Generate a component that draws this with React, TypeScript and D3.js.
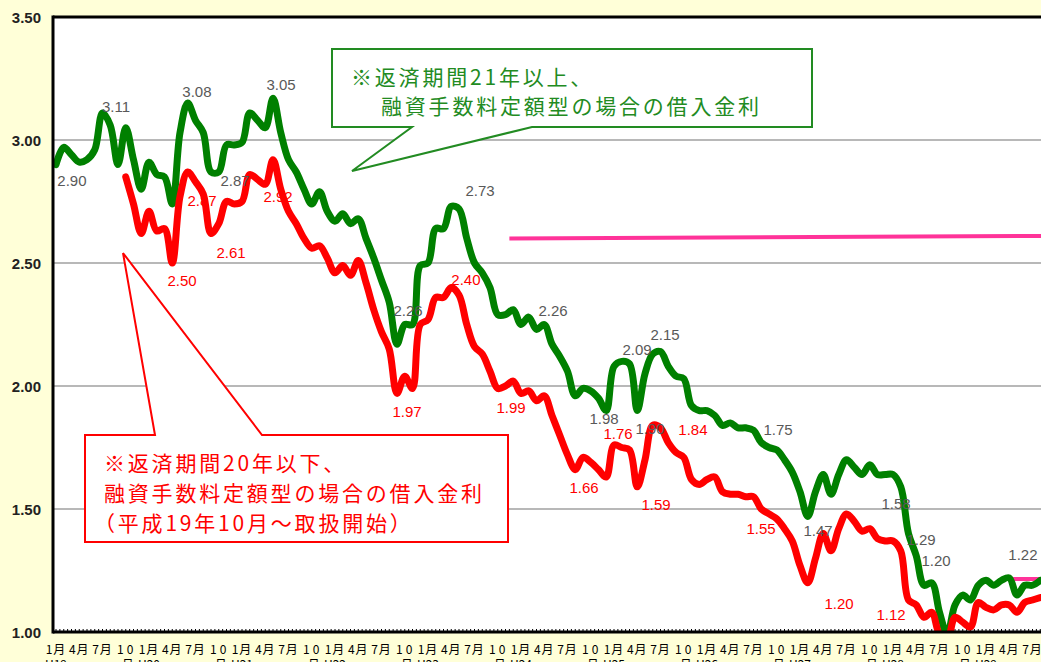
import React from "react";
import * as d3 from "d3";

// month index 0 = H19 (2007) January
const greenStart = 0;
const greenValues = [
  2.90, 2.97, 2.94, 2.91, 2.92, 2.96, 3.11, 3.06, 2.90, 3.05, 2.92, 2.80,
  2.91, 2.86, 2.85, 2.74, 3.03, 3.15, 3.08, 3.03, 2.87, 2.87, 2.98, 2.98,
  2.99, 3.11, 3.08, 3.05, 3.17, 3.03, 2.92, 2.87, 2.80, 2.74, 2.79, 2.71,
  2.67, 2.70, 2.66, 2.68, 2.60, 2.52, 2.43, 2.34, 2.17, 2.25, 2.25, 2.49,
  2.50, 2.64, 2.64, 2.73, 2.72, 2.60, 2.50, 2.46, 2.40, 2.29, 2.29, 2.31,
  2.25, 2.28, 2.23, 2.25, 2.17, 2.12, 2.06, 1.96, 1.99, 1.98, 1.95, 1.90,
  2.08, 2.10, 2.09, 1.90, 2.05, 2.13, 2.14, 2.08, 2.04, 2.03, 1.92, 1.90,
  1.90, 1.88, 1.84, 1.85, 1.83, 1.83, 1.82, 1.77, 1.75, 1.74, 1.70, 1.65,
  1.57, 1.47, 1.57, 1.64, 1.56, 1.64, 1.70, 1.67, 1.64, 1.68, 1.64, 1.64,
  1.64, 1.59, 1.40, 1.31, 1.19, 1.20, 1.08, 0.99, 1.11, 1.15, 1.13, 1.19,
  1.21, 1.19, 1.21, 1.22, 1.15, 1.19, 1.19, 1.21,
];

const redStart = 9; // H19 October
const redValues = [
  2.85, 2.74, 2.62,
  2.71, 2.63, 2.64, 2.50, 2.77, 2.87, 2.83, 2.78, 2.62, 2.66, 2.75, 2.74,
  2.75, 2.86, 2.84, 2.82, 2.92, 2.80, 2.71, 2.66, 2.60, 2.56, 2.57, 2.52,
  2.46, 2.49, 2.45, 2.51, 2.42, 2.31, 2.22, 2.15, 1.97, 2.04, 1.99, 2.25,
  2.27, 2.36, 2.36, 2.40, 2.37, 2.25, 2.16, 2.13, 2.06, 1.99, 2.00, 2.02,
  1.97, 1.98, 1.94, 1.96, 1.88, 1.80, 1.72, 1.66, 1.71, 1.69, 1.66, 1.63,
  1.76, 1.75, 1.74, 1.59, 1.70, 1.84, 1.83, 1.77, 1.73, 1.71, 1.62, 1.60,
  1.62, 1.63, 1.57, 1.56, 1.56, 1.55, 1.55, 1.50, 1.48, 1.46, 1.42, 1.37,
  1.27, 1.20, 1.30, 1.40, 1.33, 1.42, 1.48, 1.45, 1.41, 1.42, 1.38, 1.37,
  1.37, 1.33, 1.13, 1.11, 1.06, 1.08, 0.99, 0.97, 1.06, 1.04, 1.02, 1.12,
  1.10, 1.09, 1.11, 1.11, 1.08, 1.12, 1.13, 1.14,
];

const pinkLine1 = [
  { m: 58.5, v: 2.60 },
  { m: 128, v: 2.61 },
];
const pinkLine2 = [
  { m: 122.5, v: 1.215 },
  { m: 128, v: 1.215 },
];

const yTicks = [1.0, 1.5, 2.0, 2.5, 3.0, 3.5];
const monthNames = ["1月", "4月", "7月", "10"];
const eraLabels = ["H19", "H20", "H21", "H22", "H23", "H24", "H25", "H26", "H27", "H28", "H29"];

const greenLabels = [
  { t: "2.90", m: 2.06, v: 2.837 },
  { t: "3.11", m: 7.74, v: 3.138 },
  { t: "3.08", m: 18.19, v: 3.199 },
  { t: "3.05", m: 29.03, v: 3.224 },
  { t: "2.87", m: 23.1, v: 2.837 },
  { t: "2.73", m: 54.71, v: 2.793 },
  { t: "2.26", m: 45.42, v: 2.305 },
  { t: "2.26", m: 64.13, v: 2.305 },
  { t: "1.98", m: 70.71, v: 1.866 },
  { t: "2.09", m: 74.97, v: 2.15 },
  { t: "2.15", m: 78.58, v: 2.211 },
  { t: "1.90", m: 76.65, v: 1.829 },
  { t: "1.75", m: 93.16, v: 1.825 },
  { t: "1.47", m: 98.32, v: 1.411 },
  { t: "1.58", m: 108.39, v: 1.524 },
  { t: "1.29", m: 111.61, v: 1.378 },
  { t: "1.20", m: 113.55, v: 1.289 },
  { t: "1.22", m: 124.77, v: 1.317 },
];

const redLabels = [
  { t: "2.50", m: 16.26, v: 2.427 },
  { t: "2.87", m: 18.84, v: 2.756 },
  { t: "2.61", m: 22.58, v: 2.541 },
  { t: "2.92", m: 28.65, v: 2.772 },
  { t: "1.97", m: 45.29, v: 1.898 },
  { t: "2.40", m: 52.9, v: 2.431 },
  { t: "1.99", m: 58.71, v: 1.911 },
  { t: "1.66", m: 68.13, v: 1.589 },
  { t: "1.76", m: 72.52, v: 1.805 },
  { t: "1.59", m: 77.42, v: 1.52 },
  { t: "1.84", m: 82.19, v: 1.825 },
  { t: "1.55", m: 90.97, v: 1.419 },
  { t: "1.20", m: 101.03, v: 1.114 },
  { t: "1.12", m: 107.74, v: 1.073 },
];

const greenNote = ["※返済期間21年以上、", "融資手数料定額型の場合の借入金利"];
const redNote = ["※返済期間20年以下、", "融資手数料定額型の場合の借入金利", "（平成19年10月～取扱開始）"];

const W = 1041;
const H = 662;
const plotLeft = 53;
const plotTop = 17;
const plotBottom = 632;
const plotRight = 1100;

export default function App() {
  const x = d3.scaleLinear().domain([0, 120]).range([56, 986]);
  const y = d3.scaleLinear().domain([1, 3.5]).range([plotBottom, plotTop]);

  const line = d3
    .line<{ m: number; v: number }>()
    .x((d) => x(d.m))
    .y((d) => y(d.v))
    .curve(d3.curveCatmullRom.alpha(0.5));
  const straight = d3
    .line<{ m: number; v: number }>()
    .x((d) => x(d.m))
    .y((d) => y(d.v));

  const greenData = greenValues.map((v, i) => ({ m: greenStart + i, v }));
  const redData = redValues.map((v, i) => ({ m: redStart + i, v }));

  const quarterTicks = d3.range(0, 130, 3);
  const minorTicks = d3.range(0, 130, 0.5);

  const sansNum = "'Liberation Sans', Arial, sans-serif";
  const jp = "'Noto Sans CJK JP', sans-serif";

  const noteStyle = { fontFamily: jp, fontSize: 21, letterSpacing: 2.8 } as const;

  return (
    <svg
      width={W}
      height={H}
      style={{ position: "absolute", left: 0, top: 0, display: "block" }}
    >
      <defs>
        <clipPath id="plotClip">
          <rect x={plotLeft} y={plotTop} width={plotRight - plotLeft} height={plotBottom - plotTop} />
        </clipPath>
      </defs>
      <rect x={0} y={0} width={W} height={H} fill="#FFFFD8" />
      <rect x={plotLeft} y={plotTop} width={plotRight - plotLeft} height={plotBottom - plotTop} fill="#FFFFFF" />

      {/* gridlines */}
      {yTicks
        .filter((t) => t > 1 && t < 3.5)
        .map((t) => (
          <line key={"g" + t} x1={plotLeft} x2={W} y1={y(t)} y2={y(t)} stroke="#A0A0A0" strokeWidth={1.5} />
        ))}

      {/* minor ticks */}
      {minorTicks.map((m) => (
        <line key={"mt" + m} x1={x(m)} x2={x(m)} y1={plotBottom - 3} y2={plotBottom} stroke="#000" strokeWidth={1} />
      ))}

      {/* series */}
      <g clipPath="url(#plotClip)">
        <path d={straight(pinkLine1) || ""} fill="none" stroke="#FF3399" strokeWidth={4} />
        <path d={straight(pinkLine2) || ""} fill="none" stroke="#FF3399" strokeWidth={4} />
        <path d={line(greenData) || ""} fill="none" stroke="#008000" strokeWidth={7} strokeLinejoin="round" strokeLinecap="round" />
        <path d={line(redData) || ""} fill="none" stroke="#FF0000" strokeWidth={7} strokeLinejoin="round" strokeLinecap="round" />
      </g>

      {/* frame */}
      <line x1={plotLeft} x2={W} y1={plotTop} y2={plotTop} stroke="#000" strokeWidth={3} />
      <line x1={plotLeft} x2={plotLeft} y1={plotTop - 1.5} y2={plotBottom + 1.5} stroke="#000" strokeWidth={3} />
      <line x1={plotLeft} x2={W} y1={plotBottom} y2={plotBottom} stroke="#000" strokeWidth={3} />

      {/* y labels */}
      {yTicks.map((t) => (
        <text
          key={"yl" + t}
          x={41}
          y={y(t)}
          textAnchor="end"
          dominantBaseline="central"
          fontFamily={sansNum}
          fontWeight="bold"
          fontSize={15}
          fill="#222"
        >
          {t.toFixed(2)}
        </text>
      ))}

      {/* x labels */}
      {quarterTicks.map((m) => {
        const q = (m % 12) / 3;
        const yr = Math.floor(m / 12);
        return (
          <g key={"xl" + m} fontFamily={jp} fontSize={12} fill="#000">
            <text x={x(m) + (q === 3 ? 1 : 0)} y={648} textAnchor="middle" dominantBaseline="central" letterSpacing={q === 3 ? 3 : 1}>
              {monthNames[q]}
            </text>
            {q === 0 && eraLabels[yr] ? (
              <text x={x(m)} y={663} textAnchor="middle" dominantBaseline="central">
                {eraLabels[yr]}
              </text>
            ) : null}
            {q === 3 ? (
              <text x={x(m) + 2} y={663} textAnchor="middle" dominantBaseline="central">
                月
              </text>
            ) : null}
          </g>
        );
      })}

      {/* data labels */}
      {greenLabels.map((d, i) => (
        <text
          key={"gl" + i}
          x={x(d.m)}
          y={y(d.v)}
          textAnchor="middle"
          dominantBaseline="central"
          fontFamily={sansNum}
          fontSize={15}
          fill="#595959"
        >
          {d.t}
        </text>
      ))}
      {redLabels.map((d, i) => (
        <text
          key={"rl" + i}
          x={x(d.m)}
          y={y(d.v)}
          textAnchor="middle"
          dominantBaseline="central"
          fontFamily={sansNum}
          fontSize={15}
          fill="#FF0000"
        >
          {d.t}
        </text>
      ))}

      {/* green callout */}
      <path
        d="M332,49 L812,49 L812,127 L532,127 L352,171 L412,127 L332,127 Z"
        fill="#FFFFFF"
        stroke="#228B22"
        strokeWidth={2}
      />
      <text x={351} y={76} dominantBaseline="central" {...noteStyle} fill="#228B22">
        {greenNote[0]}
      </text>
      <text x={381} y={105} dominantBaseline="central" {...noteStyle} fill="#228B22">
        {greenNote[1]}
      </text>

      {/* red callout */}
      <path
        d="M85,435 L155,435 L123,253 L262,435 L508,435 L508,542 L85,542 Z"
        fill="#FFFFFF"
        stroke="#FF0000"
        strokeWidth={2}
      />
      <text x={104} y={462} dominantBaseline="central" {...noteStyle} fill="#FF0000">
        {redNote[0]}
      </text>
      <text x={104} y={492} dominantBaseline="central" {...noteStyle} fill="#FF0000">
        {redNote[1]}
      </text>
      <text x={94} y={522} dominantBaseline="central" {...noteStyle} fill="#FF0000">
        {redNote[2]}
      </text>
    </svg>
  );
}
